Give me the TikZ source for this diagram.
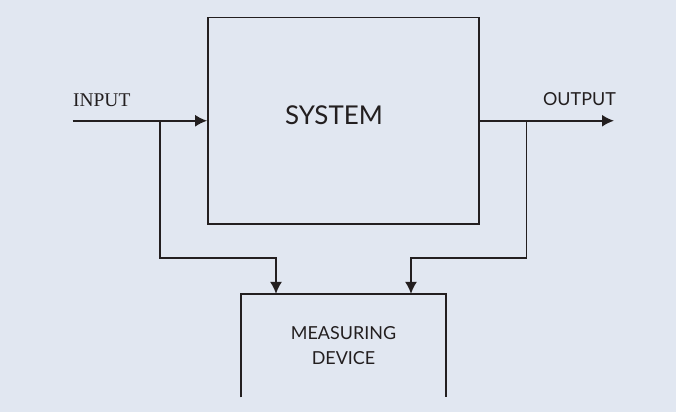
\documentclass[tikz,border=0pt]{standalone}
\usepackage{fontspec}
\setmainfont{Lato}
\newfontfamily\timesfont{Liberation Serif}
\usepackage{tikz}
\usetikzlibrary{positioning}
\usetikzlibrary{shapes,arrows.meta}
\definecolor{bgblue}{HTML}{E1E7F1}
\definecolor{ink}{HTML}{231F20}
\tikzstyle{novertex} = [draw=none, fill=none, text centered, text=ink, inner sep=0pt]
\tikzstyle{sysblock} = [rectangle, draw=ink, line width=1.8bp, minimum width=271bp, minimum height=206.5bp, inner sep=0pt]
\tikzstyle{devblock} = [rectangle, draw=none, minimum width=204bp, minimum height=103bp, align=center, text=ink, inner sep=0pt]
\tikzstyle{high} = [draw=ink, line width=1.8bp, -{Latex[length=12bp,width=12bp]}]
\tikzstyle{wire} = [draw=ink, line width=1.8bp]

\begin{document}
\begin{tikzpicture}[x=1bp, y=-1bp]
	% background
	\fill [bgblue] (0,0) rectangle (676,412);

	% place nodes
	\node [sysblock, label={[novertex, font=\fontsize{26}{30}\selectfont, xshift=-9.5bp, yshift=5.25bp]center:SYSTEM}] (SYS) at (343.5,120.75) {};
	\node [devblock, below=69bp of SYS, font=\fontsize{18}{25}\selectfont] (MD) {MEASURING\\DEVICE};
	\coordinate (IN)  at (72.5,120.75);
	\coordinate (OUT) at (614,120.75);
	\coordinate (T1)  at (160,120.75);
	\coordinate (T2)  at (526.5,120.75);
	\coordinate (J1)  at (276,258);
	\coordinate (J2)  at (411,258);
	\node [novertex, above right=13.75bp and 0.5bp of IN, font=\timesfont\fontsize{19.5}{22}\selectfont] (LIN) {INPUT};
	\node [novertex, above left=15bp and -2bp of OUT, font=\fontsize{18}{22}\selectfont] (LOUT) {OUTPUT};

	% draw edges
	\path [wire] (MD.south west) -- (MD.north west) -- (MD.north east) -- (MD.south east);
	\path [high] (IN) -- (SYS.west);
	\path [high] (SYS.east) -- (OUT);
	\path [high] (T1) |- (J1) -- (J1 |- MD.north);
	\path [high] (T2) |- (J2) -- (J2 |- MD.north);
\end{tikzpicture}
\end{document}
